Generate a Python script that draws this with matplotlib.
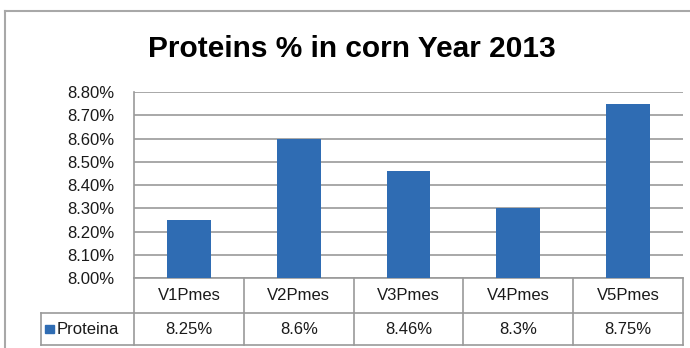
import matplotlib
matplotlib.use("Agg")
import matplotlib.pyplot as plt
import matplotlib.transforms as mtransforms
from matplotlib.lines import Line2D
from matplotlib.patches import Rectangle

# protein content per variety, in percent
categories = ["V1Pmes", "V2Pmes", "V3Pmes", "V4Pmes", "V5Pmes"]
proteina = [8.25, 8.6, 8.46, 8.3, 8.75]
series_name = "Proteina"
title = "Proteins % in corn Year 2013"
yticks = [8.0, 8.1, 8.2, 8.3, 8.4, 8.5, 8.6, 8.7, 8.8]

plt.rcParams['font.family'] = ['Liberation Sans', 'DejaVu Sans']

W, H = 690, 348
fig = plt.figure(figsize=(W / 100, H / 100), dpi=100)
fig.patch.set_facecolor("white")

bar_col = "#2F6CB3"
grid_col = "#9A9A9A"
txt_col = "#1A1A1A"

# plot area in pixels
left, right, top, bottom = 134, 683, 92, 278
ax = fig.add_axes([left / W, (H - bottom) / H, (right - left) / W, (bottom - top) / H])

x = list(range(len(categories)))
ax.bar(x, proteina, width=0.4, color=bar_col, zorder=3)
ax.set_xlim(-0.5, len(categories) - 0.5)
ax.set_ylim(yticks[0], yticks[-1])
ax.set_yticks(yticks)
ax.set_yticklabels([f"{t:.2f}%" for t in yticks], fontsize=12, color=txt_col)
ax.tick_params(axis="y", length=0, pad=14)
ax.set_xticks([])
ax.grid(axis="y", color=grid_col, linewidth=1.2, zorder=0)
for s in ["top", "right"]:
    ax.spines[s].set_visible(False)
for s in ["left", "bottom"]:
    ax.spines[s].set_color(grid_col)
    ax.spines[s].set_linewidth(1.2)

# data table below the plot: x in data units, y in axes fraction
trans = mtransforms.blended_transform_factory(ax.transData, ax.transAxes)
r1 = -(313 - bottom) / (bottom - top)
r2 = -(345 - bottom) / (bottom - top)
leg_left = -0.5 - (left - 41) / ((right - left) / len(categories))
lk = dict(color=grid_col, linewidth=1.2, transform=trans, clip_on=False)

for i in range(len(categories) + 1):
    ax.add_line(Line2D([i - 0.5, i - 0.5], [0, r2], **lk))
ax.add_line(Line2D([leg_left, len(categories) - 0.5], [r1, r1], **lk))
ax.add_line(Line2D([leg_left, len(categories) - 0.5], [r2, r2], **lk))
ax.add_line(Line2D([leg_left, leg_left], [r1, r2], **lk))

for i, (c, v) in enumerate(zip(categories, proteina)):
    ax.text(i, r1 / 2, c, transform=trans, ha="center", va="center",
            fontsize=12, color=txt_col)
    ax.text(i, (r1 + r2) / 2, f"{v:g}%", transform=trans, ha="center",
            va="center", fontsize=12, color=txt_col)

# legend key in the first cell
ax.add_patch(Rectangle((leg_left + 0.04, (r1 + r2) / 2 - 0.022), 0.075, 0.044,
                       color=bar_col, transform=trans, clip_on=False))
ax.text(leg_left + 0.14, (r1 + r2) / 2, series_name, transform=trans,
        ha="left", va="center", fontsize=12, color=txt_col)

fig.text(352 / W, 1 - 49 / H, title, ha="center", va="center",
         fontsize=21.5, fontweight="bold", color="black")

# chart frame
fig.add_artist(Line2D([5 / W, 1], [1 - 11 / H, 1 - 11 / H], color="#A8A8A8",
                      linewidth=1.5, transform=fig.transFigure))
fig.add_artist(Line2D([5 / W, 5 / W], [1 - 11 / H, 0], color="#A8A8A8",
                      linewidth=1.5, transform=fig.transFigure))

fig.savefig("out.png", dpi=100)
